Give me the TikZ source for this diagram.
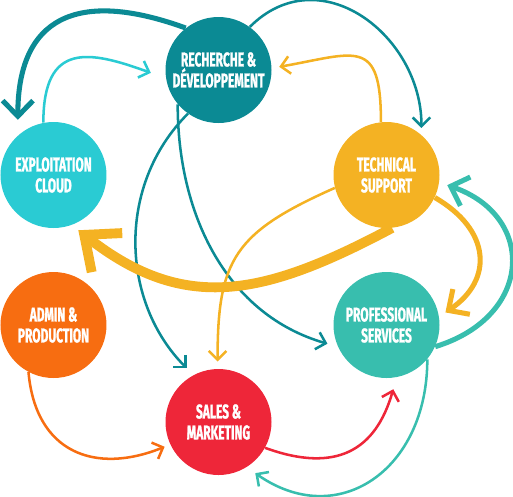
\documentclass[tikz,border=0pt]{standalone}
\usepackage{fontspec}
\usepackage{tikz}
\usetikzlibrary{arrows.meta}
\newfontfamily\hubfont[FakeStretch=0.6, FakeBold=1.2]{Fira Sans}
\definecolor{rdteal}{HTML}{0B8A94}
\definecolor{cloudcyan}{HTML}{2ACBD3}
\definecolor{supyellow}{HTML}{F4B223}
\definecolor{adminorange}{HTML}{F76D11}
\definecolor{servgreen}{HTML}{38BEAE}
\definecolor{salesred}{HTML}{EE2639}
\tikzstyle{hub} = [circle, minimum size=2.65cm, inner sep=0pt, text=white, align=center, font=\hubfont\bfseries\fontsize{14.2}{14.9}\selectfont]
\tikzstyle{link} = [line width=1.8pt, -{Straight Barb[length=2.2mm, width=4.4mm]}]
\tikzstyle{boldlink} = [line width=3.6pt, -{Straight Barb[length=3.9mm, width=7.6mm]}]
\tikzstyle{heavylink} = [line width=7pt, -{Straight Barb[length=7.2mm, width=12.4mm]}]

\begin{document}
\begin{tikzpicture}[node distance=2.625cm]

\useasboundingbox (-5.4625,1.75) rectangle (7.3625,-10.65);

\node (rd) [hub, fill=rdteal] {RECHERCHE \&\\DÉVELOPPEMENT};

\node (cloud) [hub, fill=cloudcyan, below of=rd, xshift=-4.125cm] {EXPLOITATION\\CLOUD};
\node (ts) [hub, fill=supyellow, below of=rd, xshift=4.2cm] {TECHNICAL\\SUPPORT};
\node (ap) [hub, fill=adminorange, below of=cloud, yshift=-1.125cm] {ADMIN \&\\PRODUCTION};
\node (ps) [hub, fill=servgreen, below of=ts, yshift=-1.125cm] {PROFESSIONAL\\SERVICES};
\node (sm) [hub, fill=salesred, below of=ap, xshift=4.125cm, yshift=0.2cm] {SALES \&\\MARKETING};

\draw [boldlink, rdteal, shorten >=0.39cm] (rd.128) to[out=160, in=90, looseness=1.5] (cloud.132);
\draw [link, cloudcyan, shorten >=0.4cm] (cloud.101) to[out=90, in=160, looseness=1.6] (rd.189);
\draw [link, rdteal, shorten >=0.17cm] (rd.54) to[out=45, in=90, looseness=1.25] (ts.49);
\draw [link, supyellow, shorten >=0.19cm] (ts.96) to[out=90, in=10, looseness=1.8] (rd.2);
\draw [link, rdteal, shorten >=0.23cm] (rd.235) to[out=225, in=135] (sm.118);
\draw [link, rdteal, shorten >=0.27cm] (rd.220) to[out=270, in=164] (ps.204);
\draw [heavylink, supyellow, shorten >=0.21cm] (ts.276) to[out=208, in=322, looseness=1.15] (cloud.290);
\draw [link, supyellow, shorten >=0.18cm] (ts.194) to[out=204, in=90, looseness=1.3] (sm.91);
\draw [boldlink, supyellow, shorten >=0.19cm] (ts.-25) to[out=-30, in=34, looseness=1.4] (ps.9);
\draw [boldlink, servgreen, shorten >=0.21cm] (ps.-24) to[out=17, in=-19, looseness=1.6] (ts.-8);
\draw [link, servgreen, shorten >=0.26cm] (ps.-40) to[out=-90, in=-35, looseness=1.35] (sm.-58);
\draw [link, salesred, shorten >=0.31cm] (sm.-29) to[out=-20, in=-106, looseness=1.3] (ps.-79);
\draw [link, adminorange, shorten >=0.15cm] (ap.242) to[out=-85, in=202, looseness=1.3] (sm.205);

\end{tikzpicture}
\end{document}
